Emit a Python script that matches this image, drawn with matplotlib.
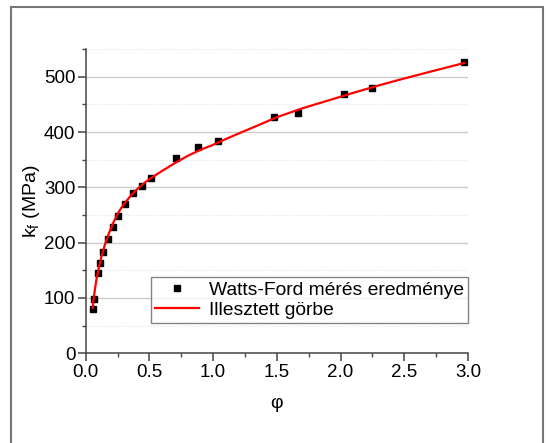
import matplotlib
matplotlib.use("Agg")
import matplotlib.pyplot as plt
from matplotlib.patches import Rectangle
from matplotlib.ticker import MultipleLocator

plt.rcParams['font.family'] = ['Liberation Sans', 'DejaVu Sans']
plt.rcParams['mathtext.default'] = 'regular'

# measured points (Watts-Ford)
phi_meas = [0.055, 0.063, 0.094, 0.115, 0.135, 0.174, 0.213, 0.255, 0.307, 0.375,
            0.443, 0.516, 0.708, 0.883, 1.039, 1.475, 1.665, 2.03, 2.25, 2.97]
kf_meas = [81, 98, 145, 164, 184, 207, 228, 249, 270, 289,
           302, 317, 354, 373, 384, 427, 435, 469, 480, 526]

# fitted curve
phi_fit = [0.055, 0.06, 0.07, 0.08, 0.10, 0.12, 0.15, 0.18, 0.22, 0.26, 0.30, 0.35,
           0.40, 0.45, 0.50, 0.60, 0.70, 0.80, 0.90, 1.00, 1.10, 1.20, 1.35, 1.50,
           1.70, 1.90, 2.10, 2.30, 2.50, 2.70, 2.97]
kf_fit = [82, 95, 112, 128, 152, 172, 196, 216, 238, 256, 270, 284,
          296, 306, 315, 330, 344, 357, 368, 377, 387.5, 397.5, 412, 427,
          443, 457, 471, 484.5, 497, 509, 525]

fig = plt.figure(figsize=(5.46, 4.43), dpi=100)
ax = fig.add_axes([0.157, 0.2025, 0.7, 0.6865])

ax.plot(phi_meas, kf_meas, 's', color='black', markersize=5, label='Watts-Ford mérés eredménye', zorder=3)
ax.plot(phi_fit, kf_fit, '-', color='#ff0000', lw=1.6, label='Illesztett görbe', zorder=4)

ax.set_xlim(0, 3.0)
ax.set_ylim(0, 550)
ax.xaxis.set_major_locator(MultipleLocator(0.5))
ax.xaxis.set_minor_locator(MultipleLocator(0.25))
ax.yaxis.set_major_locator(MultipleLocator(100))
ax.yaxis.set_minor_locator(MultipleLocator(50))

ax.grid(True, axis='y', which='major', color='#cccccc', lw=1)
ax.grid(True, axis='y', which='minor', color='#e2e2e2', lw=0.8, ls=':')
ax.set_axisbelow(True)

for s in ['top', 'right']:
    ax.spines[s].set_visible(False)
for s in ['left', 'bottom']:
    ax.spines[s].set_color('#444444')
    ax.spines[s].set_linewidth(1.1)

ax.tick_params(which='major', direction='out', length=5.5, width=1.1, color='#444444',
               labelsize=13.5, pad=2)
ax.tick_params(which='minor', direction='out', length=3, width=1, color='#444444')

ax.set_xlabel('φ', fontsize=14, labelpad=10)
ax.set_ylabel('k$_f$ (MPa)', fontsize=14, labelpad=1)

leg = ax.legend(loc='lower right', bbox_to_anchor=(1.0, 0.1), fontsize=13.9,
                frameon=True, fancybox=False, edgecolor='#666666',
                handlelength=2.3, borderpad=0.2, labelspacing=0.15, handletextpad=0.5,
                borderaxespad=0)
leg.get_frame().set_linewidth(1)

# outer frame
fig.patches.append(Rectangle((11 / 546, -0.1), 532 / 546, 1.1 - 7 / 443,
                             transform=fig.transFigure, fill=False,
                             edgecolor='#777777', lw=1.5, clip_on=False))

fig.savefig('out.png', dpi=100)
